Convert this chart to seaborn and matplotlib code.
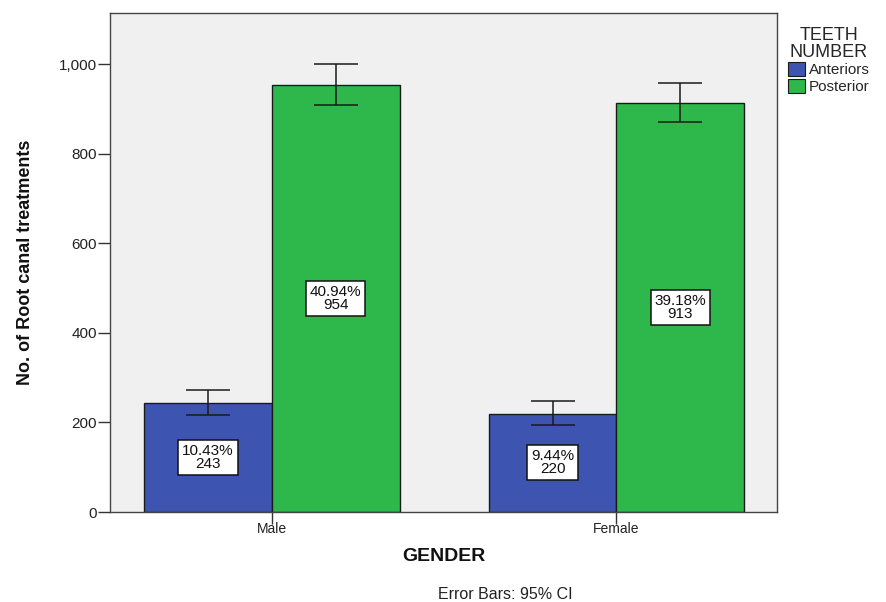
import matplotlib
matplotlib.use("Agg")
import matplotlib.pyplot as plt
import matplotlib.ticker as mticker
import seaborn as sns
import pandas as pd

# Root canal treatments by gender and teeth group
genders = ["Male", "Female"]
teeth_groups = ["Anteriors", "Posterior"]
counts_anteriors = [243, 220]
counts_posterior = [954, 913]
pct_anteriors = ["10.43%", "9.44%"]
pct_posterior = ["40.94%", "39.18%"]
ci_low_anteriors = [216, 195]
ci_high_anteriors = [272, 248]
ci_low_posterior = [910, 870]
ci_high_posterior = [1000, 958]

rows = []
for i, g in enumerate(genders):
    rows.append(dict(GENDER=g, TEETH=teeth_groups[0], count=counts_anteriors[i],
                     pct=pct_anteriors[i], lo=ci_low_anteriors[i], hi=ci_high_anteriors[i]))
    rows.append(dict(GENDER=g, TEETH=teeth_groups[1], count=counts_posterior[i],
                     pct=pct_posterior[i], lo=ci_low_posterior[i], hi=ci_high_posterior[i]))
df = pd.DataFrame(rows)

sns.set_style("white")
plt.rcParams["font.family"] = ["Liberation Sans", "DejaVu Sans"]

fig = plt.figure(figsize=(8.87, 6.02), dpi=100)
ax = fig.add_axes([0.124, 0.1495, 0.752, 0.8285])
ax.set_facecolor("#f0f0f0")

palette = {"Anteriors": "#3d55b0", "Posterior": "#2eb84b"}
sns.barplot(data=df, x="GENDER", y="count", hue="TEETH", order=genders,
            hue_order=teeth_groups, palette=palette, errorbar=None,
            width=0.742, saturation=1, edgecolor="#1a1a1a", linewidth=1.0,
            ax=ax)

# Error bars and value labels, positioned from the drawn bars
for container, grp in zip(ax.containers, teeth_groups):
    sub = df[df["TEETH"] == grp].set_index("GENDER").loc[genders]
    for bar, (_, r) in zip(container, sub.iterrows()):
        xc = bar.get_x() + bar.get_width() / 2
        ax.errorbar(xc, r["count"], yerr=[[r["count"] - r["lo"]], [r["hi"] - r["count"]]],
                    fmt="none", ecolor="#1a1a1a", elinewidth=1.1, capsize=16,
                    capthick=1.1, zorder=5)
        ax.text(xc, r["count"] / 2, f"{r['pct']}\n{r['count']}", ha="center",
                va="center", fontsize=11, linespacing=0.9, color="#111111",
                bbox=dict(boxstyle="square,pad=0.25", fc="white", ec="#111111", lw=1.1),
                zorder=6)

ax.set_xlim(-0.47, 1.466)
ax.set_ylim(0, 1114)
ax.set_yticks([0, 200, 400, 600, 800, 1000])
ax.yaxis.set_major_formatter(mticker.FuncFormatter(lambda v, p: f"{int(v):,}"))
ax.tick_params(axis="both", which="both", length=8.5, width=1.0, color="#333333",
               labelsize=11, labelcolor="#222222", bottom=True, left=True, pad=1)
ax.tick_params(axis="x", labelsize=10, pad=-1)

for s in ax.spines.values():
    s.set_visible(True)
    s.set_color("#444444")
    s.set_linewidth(1.0)

ax.set_xlabel("GENDER", fontsize=14, fontweight="bold", labelpad=8, color="#111111")
ax.set_ylabel("No. of Root canal treatments", fontsize=13, fontweight="bold",
              labelpad=18, color="#111111")

leg = ax.legend(title="TEETH\nNUMBER", loc="upper left", bbox_to_anchor=(1.003, 0.99),
                frameon=False, fontsize=11, title_fontsize=13, handlelength=1.1,
                handleheight=1.0, handletextpad=0.25, borderaxespad=0.2,
                labelspacing=0.1, alignment="center")
leg.get_title().set_linespacing(0.95)
leg.get_title().set_multialignment("center")
for h in leg.legend_handles:
    h.set_edgecolor("#1a1a1a")
    h.set_linewidth(0.8)

fig.text(0.57, 0.0, "Error Bars: 95% CI", ha="center", va="bottom", fontsize=11.5,
         color="#222222")

fig.savefig("out.png", dpi=100)
